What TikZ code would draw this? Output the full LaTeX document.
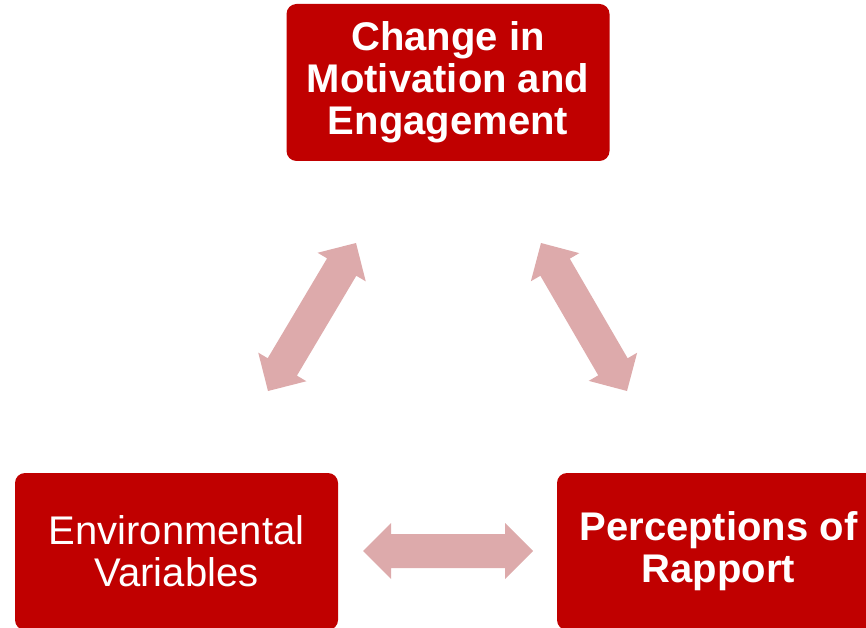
\documentclass[tikz,border=0pt]{standalone}
\usepackage{fontspec}
\setmainfont{Liberation Sans}
\usetikzlibrary{calc}
\definecolor{boxred}{RGB}{192,0,0}
\definecolor{linkpink}{RGB}{221,170,171}

% two-headed block arrow between two named points
\newcommand\linkarrow[2]{%
  \path ($(#1)!28pt!(#2)$) coordinate (ha) ($(#2)!28pt!(#1)$) coordinate (hb);
  \fill[link] (#1) -- ($(ha)!28pt!90:(#1)$) -- ($(ha)!17pt!90:(#1)$)
    -- ($(hb)!17pt!-90:(#2)$) -- ($(hb)!28pt!-90:(#2)$) -- (#2)
    -- ($(hb)!28pt!90:(#2)$) -- ($(hb)!17pt!90:(#2)$)
    -- ($(ha)!17pt!-90:(#1)$) -- ($(ha)!28pt!-90:(#1)$) -- cycle;}

\begin{document}
\begin{tikzpicture}[
            x=1pt, y=-1pt,
            factor/.style={fill=boxred, rounded corners=10pt, inner sep=0pt,
                minimum width=323pt, minimum height=157pt, text=white,
                align=center, font=\fontsize{40}{42}\selectfont},
            link/.style={fill=linkpink}
            ]
        \useasboundingbox (0,0) rectangle (866,628);
        \clip (0,0) rectangle (866,628);
        \node[factor, font=\fontsize{40}{42}\selectfont\bfseries] (motiv) at (448,82.5)
            {Change in\\Motivation and\\Engagement};
        \node[factor] (env) at (176.5,551.5) {Environmental\\Variables};
        \node[factor, font=\fontsize{40}{42}\selectfont\bfseries] (rapp) at (718.5,551.5)
            {Perceptions of\\Rapport};
        % arrow ends
        \coordinate (el) at (268,391);
        \coordinate (mu) at (356,243);
        \coordinate (mr) at (541,243);
        \coordinate (rl) at (627,391);
        \coordinate (eh) at (363,551);
        \coordinate (rh) at (533,551);
        \linkarrow{el}{mu}
        \linkarrow{mr}{rl}
        \linkarrow{eh}{rh}
        \end{tikzpicture}
\end{document}
